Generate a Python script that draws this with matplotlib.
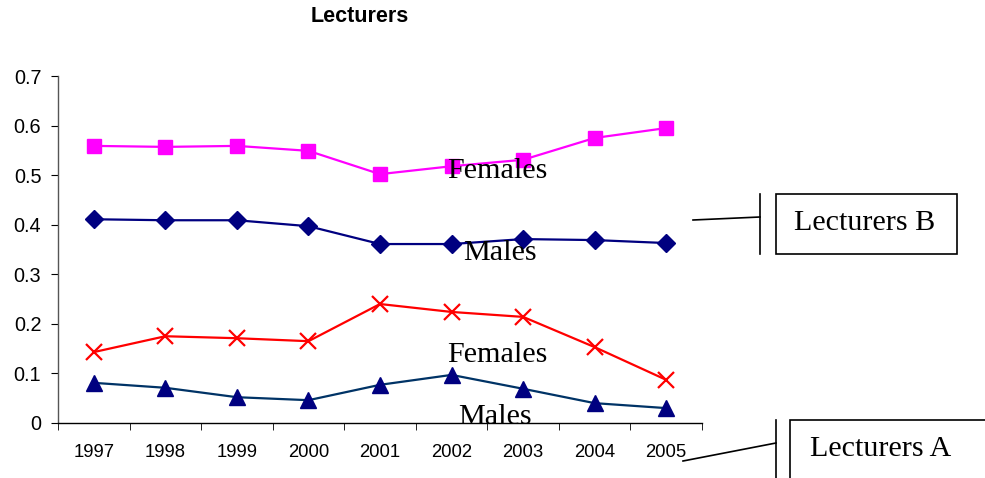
import matplotlib
matplotlib.use("Agg")
import matplotlib.pyplot as plt
from matplotlib.patches import Rectangle
from matplotlib.lines import Line2D

years = ["1997", "1998", "1999", "2000", "2001", "2002", "2003", "2004", "2005"]
females_b = [0.559, 0.557, 0.559, 0.549, 0.502, 0.518, 0.531, 0.575, 0.595]
males_b = [0.411, 0.409, 0.409, 0.397, 0.361, 0.361, 0.371, 0.369, 0.363]
females_a = [0.143, 0.175, 0.171, 0.165, 0.240, 0.224, 0.214, 0.153, 0.087]
males_a = [0.081, 0.071, 0.052, 0.046, 0.077, 0.097, 0.069, 0.040, 0.030]

fig = plt.figure(figsize=(9.85, 4.78), dpi=100)
ax = fig.add_axes([0.0589, 0.1151, 0.6538, 0.7259])

x = list(range(len(years)))
ax.plot(x, females_b, color="#FF00FF", lw=1.6, marker="s", ms=10,
        mfc="#FF00FF", mec="#FF00FF")
ax.plot(x, males_b, color="#000080", lw=1.6, marker="D", ms=9,
        mfc="#000080", mec="#000080")
ax.plot(x, females_a, color="#FF0000", lw=1.6, marker="x", ms=11, mew=1.6)
ax.plot(x, males_a, color="#003366", lw=1.6, marker="^", ms=11,
        mfc="#000080", mec="#000080")

ax.set_xlim(-0.5, len(years) - 0.5)
ax.set_ylim(0, 0.7)
ax.set_yticks([0, 0.1, 0.2, 0.3, 0.4, 0.5, 0.6, 0.7])
ax.set_yticklabels(["0", "0.1", "0.2", "0.3", "0.4", "0.5", "0.6", "0.7"])
ax.set_xticks(x)
ax.set_xticklabels(years)
ax.set_xticks([i - 0.5 for i in range(len(years) + 1)], minor=True)
ax.tick_params(axis="x", which="major", length=0, pad=15, labelsize=13.3)
ax.tick_params(axis="x", which="minor", length=5, direction="out")
ax.tick_params(axis="y", length=5, direction="out", labelsize=14.3, pad=7)
for lab in ax.get_xticklabels() + ax.get_yticklabels():
    lab.set_family("Liberation Sans")
for s in ("top", "right"):
    ax.spines[s].set_visible(False)
for s in ("left", "bottom"):
    ax.spines[s].set_linewidth(1.0)
    ax.spines[s].set_color("#555555")
ax.spines["bottom"].set_color("black")

serif = "Liberation Serif"
lbl = dict(family=serif, fontsize=21.7, ha="center", va="center", color="black")
ax.text(5.64, 0.508, "Females", **lbl)
ax.text(5.67, 0.343, "Males", **lbl)
ax.text(5.64, 0.137, "Females", **lbl)
ax.text(5.61, 0.012, "Males", **lbl, clip_on=False)

fig.text(360 / 985, 1 - 17 / 478, "Lecturers", family="Liberation Sans",
         fontweight="bold", fontsize=15.5, ha="center", va="center")

def px(xp, yp):
    return xp / 985, 1 - yp / 478

# Callout B
bx0, by0 = px(776, 254)
bx1, by1 = px(957, 194)
fig.add_artist(Rectangle((bx0, by0), bx1 - bx0, by1 - by0, transform=fig.transFigure,
                         fill=False, ec="black", lw=1.2))
fig.add_artist(Line2D([760 / 985] * 2, [1 - 194 / 478, 1 - 254 / 478],
                      transform=fig.transFigure, color="black", lw=1.2))
fig.add_artist(Line2D([693 / 985, 760 / 985], [1 - 220 / 478, 1 - 217 / 478],
                      transform=fig.transFigure, color="black", lw=1.2))
fig.text(*px(865, 223), "Lecturers B", family=serif, fontsize=21.7,
         ha="center", va="center")

# Callout A
ax0, ay0 = px(790, 500)
ax1, ay1 = px(1000, 420)
fig.add_artist(Rectangle((ax0, ay0), ax1 - ax0, ay1 - ay0, transform=fig.transFigure,
                         fill=False, ec="black", lw=1.2))
fig.add_artist(Line2D([776 / 985] * 2, [1 - 420 / 478, 1 - 480 / 478],
                      transform=fig.transFigure, color="black", lw=1.2))
fig.add_artist(Line2D([683 / 985, 776 / 985], [1 - 461 / 478, 1 - 443 / 478],
                      transform=fig.transFigure, color="black", lw=1.2))
fig.text(*px(881, 449), "Lecturers A", family=serif, fontsize=21.7,
         ha="center", va="center")

fig.savefig("out.png", dpi=100)
